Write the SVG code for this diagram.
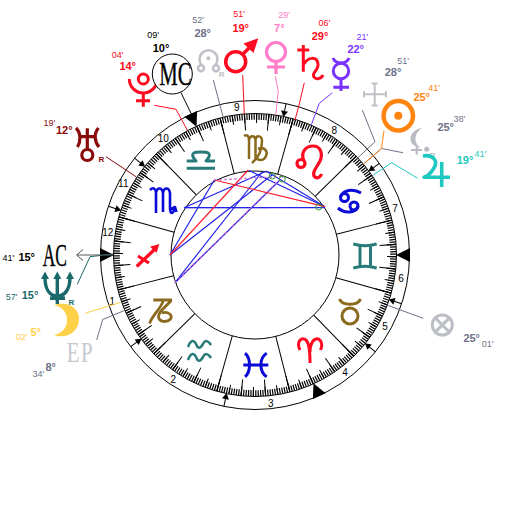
<svg xmlns="http://www.w3.org/2000/svg" xmlns:xlink="http://www.w3.org/1999/xlink" width="510" height="510" viewBox="0 0 510 510">
<style>
text{font-family:"Liberation Sans",Arial,sans-serif;text-anchor:middle}
.d{font-size:11px;font-weight:bold}
.m{font-size:9px}
.h{font-size:10px;fill:#000}
.r{font-size:8px;font-weight:bold}
.g{fill:none;stroke-linecap:butt;stroke-linejoin:round}
.ring{fill:none;stroke:#000;stroke-width:1}
.div{stroke:#000;stroke-width:1}
.con{fill:none;stroke-width:1}
.asp{stroke-width:1.2;stroke:#2222e8}
.sf{font-family:"Liberation Serif","Times New Roman",serif}
.red{stroke:#ff0a20}.redf{fill:#ff0a20}
.blue{stroke:#0a0ad8}.brown{stroke:#8a6a1c}.teal{stroke:#2a7a7a}
</style>
<defs>
<g id="cusp"><line x1="100.5" y1="255" x2="110" y2="255" stroke="#000"/><polygon points="114,255 108,251.5 108,258.5" fill="#000"/></g>
<polygon id="angle" points="100,248 100,262 114,255" fill="#000"/>
<line id="dv" class="div" x1="339" y1="255" x2="391" y2="255"/>
</defs>
<rect width="510" height="510" fill="#fff"/>
<g id="wheel">
<circle class="ring" cx="255" cy="255" r="154.5"/>
<circle class="ring" cx="255" cy="255" r="141.5"/>
<circle class="ring" cx="255" cy="255" r="84"/>
<g transform="rotate(75.68 255 255)" fill="none" stroke="#000">
<circle cx="255" cy="255" r="138.2" stroke-width="6" pathLength="360" stroke-dasharray="0.5 0.5" stroke-dashoffset="0.25"/>
<circle cx="255" cy="255" r="136.5" stroke-width="9" pathLength="72" stroke-dasharray="0.084 0.916" stroke-dashoffset="0.042"/>
<circle cx="255" cy="255" r="133" stroke-width="16" pathLength="36" stroke-dasharray="0.043 0.957" stroke-dashoffset="0.0215"/>
</g>
<use xlink:href="#dv" href="#dv" transform="rotate(75.68 255 255)"/>
<use xlink:href="#dv" href="#dv" transform="rotate(45.68 255 255)"/>
<use xlink:href="#dv" href="#dv" transform="rotate(15.68 255 255)"/>
<use xlink:href="#dv" href="#dv" transform="rotate(-14.32 255 255)"/>
<use xlink:href="#dv" href="#dv" transform="rotate(-44.32 255 255)"/>
<use xlink:href="#dv" href="#dv" transform="rotate(-74.32 255 255)"/>
<use xlink:href="#dv" href="#dv" transform="rotate(-104.32 255 255)"/>
<use xlink:href="#dv" href="#dv" transform="rotate(-134.32 255 255)"/>
<use xlink:href="#dv" href="#dv" transform="rotate(-164.32 255 255)"/>
<use xlink:href="#dv" href="#dv" transform="rotate(165.68 255 255)"/>
<use xlink:href="#dv" href="#dv" transform="rotate(135.68 255 255)"/>
<use xlink:href="#dv" href="#dv" transform="rotate(105.68 255 255)"/>
<use xlink:href="#angle" href="#angle"/>
<use xlink:href="#angle" href="#angle" transform="rotate(65.5 255 255)"/>
<use xlink:href="#angle" href="#angle" transform="rotate(180 255 255)"/>
<use xlink:href="#angle" href="#angle" transform="rotate(245.5 255 255)"/>
<use xlink:href="#cusp" href="#cusp" transform="rotate(18.4 255 255)"/>
<use xlink:href="#cusp" href="#cusp" transform="rotate(38.8 255 255)"/>
<use xlink:href="#cusp" href="#cusp" transform="rotate(101.6 255 255)"/>
<use xlink:href="#cusp" href="#cusp" transform="rotate(143.6 255 255)"/>
<use xlink:href="#cusp" href="#cusp" transform="rotate(198.4 255 255)"/>
<use xlink:href="#cusp" href="#cusp" transform="rotate(218.8 255 255)"/>
<use xlink:href="#cusp" href="#cusp" transform="rotate(281.6 255 255)"/>
<use xlink:href="#cusp" href="#cusp" transform="rotate(323.6 255 255)"/>
</g>
<g id="house-numbers">
<text class="h" x="112.3" y="304.5">1</text>
<text class="h" x="173.3" y="383">2</text>
<text class="h" x="270.7" y="406.5">3</text>
<text class="h" x="345" y="375.5">4</text>
<text class="h" x="385" y="329.5">5</text>
<text class="h" x="401" y="281.5">6</text>
<text class="h" x="395" y="212">7</text>
<text class="h" x="334.3" y="133.7">8</text>
<text class="h" x="236.7" y="110.5">9</text>
<text class="h" x="163.3" y="141.7">10</text>
<text class="h" x="123.3" y="186.7">11</text>
<text class="h" x="107.7" y="235.5">12</text>
</g>
<g id="connectors">
<polyline class="con" stroke="#ff0a20" points="154.3,105.3 176,109.3 187.3,130"/>
<polyline class="con" stroke="#000" points="181,92.7 192.7,116.7"/>
<polyline class="con" stroke="#6e7189" points="213.3,80 223,116.5"/>
<polyline class="con" stroke="#ff0a20" points="242.7,75 244.3,114"/>
<polyline class="con" stroke="#ff7cc8" points="275.3,76 278.3,91.7 275.7,115"/>
<polyline class="con" stroke="#ff0a20" points="304.3,82.7 299.3,104 295,120"/>
<polyline class="con" stroke="#7a33ff" points="332.3,92.7 319.3,103.3 311.3,125"/>
<polyline class="con" stroke="#6e7189" points="362.3,110 375,141.7 357.3,158.3"/>
<polyline class="con" stroke="#6e7189" points="403,152.7 381.5,148.5 364.3,163.3"/>
<polyline class="con" stroke="#ff8410" points="384,130.7 381.5,148.5 364.3,163.3"/>
<polyline class="con" stroke="#1fc8c0" points="417.7,178.3 391.7,162.7 373.3,175"/>
<polyline class="con" stroke="#6e7189" points="423.3,318.3 386.7,305"/>
<polyline class="con" stroke="#8b0a0a" points="106,156.7 136,176.7"/>
<polyline class="con" stroke="#19696a" points="77.3,284.3 90,256.7 113,254"/>
<polyline class="con" stroke="#555" stroke-width="1.5" points="83,249.5 76.5,255 83,260.5"/>
<line class="con" stroke="#555" stroke-width="1.5" x1="77" y1="255" x2="113" y2="255"/>
<polyline class="con" stroke="#ffd04a" points="85,313.3 120.7,302.3"/>
<polyline class="con" stroke="#6e7189" points="96.7,340 102.7,319.5 124.5,310.5"/>
</g>
<g id="aspects">
<line class="asp" x1="184" y1="207.7" x2="325" y2="207.7"/>
<line class="asp" stroke-opacity="0.5" stroke-width="2" x1="184" y1="207.7" x2="270" y2="207.7"/>
<line class="asp" x1="184" y1="207.7" x2="266.7" y2="171"/>
<line class="asp" x1="214.3" y1="180" x2="170" y2="255"/>
<line class="asp" x1="170" y1="255" x2="272" y2="175"/>
<line class="asp" x1="175" y1="282.7" x2="262" y2="172"/>
<line class="asp" x1="175" y1="282.7" x2="279" y2="181"/>
<line class="asp" x1="249" y1="170.5" x2="325" y2="206.7"/>
<line class="asp" x1="267" y1="171.5" x2="325" y2="206.7"/>
<line stroke="#ff2030" stroke-width="1.2" x1="170" y1="255" x2="248.3" y2="170"/>
<line stroke="#ff2030" stroke-width="1.2" x1="214.3" y1="180" x2="325" y2="206.7"/>
<line stroke="#c860d0" stroke-width="1.3" stroke-dasharray="2.5 2.5" x1="214.3" y1="180" x2="283" y2="176.5"/>
<line stroke="#c860d0" stroke-width="1.3" stroke-dasharray="2.5 2.5" x1="175" y1="282.7" x2="283" y2="176.5"/>
<g fill="none" stroke="#2a9a2a" stroke-width="1">
<circle cx="272.3" cy="176" r="3"/><circle cx="282.3" cy="179" r="3"/><circle cx="318.7" cy="207" r="3"/>
</g>
</g>
<g id="signs" fill="none">
<path id="libra" class="g teal" stroke-width="3" d="M186.7 161H196C188 152 196 152 201 152C206 152 214 152 206 161H215M186.7 168.3H215"/>
<path id="virgo" class="g brown" stroke-width="2.5" d="M244 136C247 134 249 136 249 140V159M249 140C250 135 255 135 255.5 140V159M255.5 140C256 135 262 135 262 141C262 150 258 158 252 163M258 149C265 146 268 152 266 156C264 161 259 161 256 158"/>
<g id="leo" class="g red" stroke-width="3.2"><circle cx="301" cy="163.5" r="4"/><path d="M304 161C300 152 306 146 313 146C321 146 323 154 320 161C317 167 312 172 314 176C316 179 320 178 321.6 174"/></g>
<g id="cancer" class="g blue" stroke-width="3"><circle cx="344.5" cy="197.5" r="4"/><circle cx="354" cy="206" r="4"/><path d="M340.5 197C343 190 353 188 361 193M358 206.5C355 213 345 214 338 208"/></g>
<path id="gemini" class="g teal" stroke-width="3" d="M353.3 244C360 246 370 246 376.7 244M353.3 268C360 266 370 266 376.7 268M360 246V266M370.5 246V266"/>
<g id="taurus" class="g brown" stroke-width="3"><circle cx="350" cy="316" r="8"/><path d="M339.5 299C342 306 358 306 360.5 299"/></g>
<path id="aries" class="g red" stroke-width="3" d="M300 350C296 342 301 338 304 339C308 340 310 346 310 363M320.5 350C324 342 319 338 316 339C312 340 310 346 310 352"/>
<path id="pisces" class="g blue" stroke-width="3" d="M245 353.3C251 358 251 372 245 376.7M266.7 353.3C259 358 259 372 266.7 376.7M243.3 365H268.3"/>
<path id="aquarius" class="g teal" stroke-width="2.5" d="M188 347C191 339 194 340 196 344C198 349 200 349 203 344C205 340 208 340 211 345M188 360C191 352 194 353 196 357C198 362 200 362 203 357C205 353 208 353 211 358"/>
<path id="capricorn" class="g brown" stroke-width="2.8" d="M153.3 300H172M163.5 300C161 309 153 314 149.5 323.5M171.5 300C165 308 158 312 158.5 317C159 322 167 323 170.5 319C173 315 168 311 162 313"/>
<g id="sagittarius"><path class="g red" stroke-width="3.2" d="M136.7 266.5L155 249M138 256L149 263"/><polygon class="redf" points="159.3,244 150,246.7 156.7,252.7"/></g>
<path id="scorpio" class="g blue" stroke-width="2.6" d="M150 190C153 187 155 188 156 192V213M156 193C157 187 162 187 163 193V212M163 193C164 187 169 187 170 193V208C170 215 173 214 175 208M170.5 209.5L175 207L176.5 212"/>
</g>
<g id="pluto"><g class="g red" stroke-width="3"><circle cx="143.3" cy="79" r="5"/><path d="M129.3 79A14 14 0 0 0 157.3 79M143.3 93V106.7M136 100.7H150"/></g>
<text class="d" fill="#ff0a20" x="127.7" y="70">14°</text><text class="m" fill="#ff0a20" x="117.5" y="58">04'</text></g>
<g id="mc"><circle cx="172.3" cy="74" r="20" fill="#fff" stroke="#000"/>
<text class="sf" font-size="33" transform="translate(175.5 85) scale(.63 1)" fill="#000" stroke="#000" stroke-width=".4">MC</text>
<text class="d" fill="#000" x="161" y="52">10°</text><text class="m" fill="#000" x="153" y="38">09'</text></g>
<g id="chiron"><g class="g" stroke="#bfc1c7" stroke-width="2.5"><path d="M201.5 65A9 9 0 1 1 215.5 65"/><circle cx="201" cy="68.3" r="3"/><circle cx="216" cy="68.3" r="3"/></g><circle cx="208.3" cy="58.3" r="2" fill="#bfc1c7"/>
<text class="r" fill="#bfc1c7" x="221.7" y="77">R</text>
<text class="d" fill="#6e7189" x="202.7" y="37">28°</text><text class="m" fill="#6e7189" x="198" y="23">52'</text></g>
<g id="mars"><circle class="g red" stroke-width="3.5" cx="235.7" cy="61.7" r="10"/><path class="g red" stroke-width="3.5" d="M243 54L254 43"/><polygon class="redf" points="258.3,38.3 243.5,43.5 253.5,53"/>
<text class="d" fill="#ff0a20" x="240.7" y="32">19°</text><text class="m" fill="#ff0a20" x="239" y="16.5">51'</text></g>
<g id="venus"><g class="g" stroke="#ff7cc8" stroke-width="3.2"><circle cx="276" cy="52" r="9.5"/><path d="M276 62V74M267 67H285"/></g>
<text class="d" fill="#ff7cc8" x="279.3" y="32">7°</text><text class="m" fill="#ff7cc8" x="284" y="18">29'</text></g>
<g id="saturn"><path class="g red" stroke-width="3" d="M303.3 45V71.7M297.3 50H309.3M304 64C308 57 317 56 318 64C319 70 311 73 314 77C316 80 321 79 323 75"/>
<text class="d" fill="#ff0a20" x="320" y="40">29°</text><text class="m" fill="#ff0a20" x="324.3" y="25.5">06'</text></g>
<g id="mercury"><g class="g" stroke="#7a33ff" stroke-width="3"><circle cx="341" cy="71" r="7.7"/><path d="M333 58Q335 63 341 63Q347 63 349 58M341 79V91M333.3 87.3H349"/></g>
<text class="d" fill="#7a33ff" x="355.7" y="53">22°</text><text class="m" fill="#7a33ff" x="362.3" y="39.5">21'</text></g>
<g id="cross"><path class="g" stroke="#c0c2c8" stroke-width="2" d="M374.7 84V105M364.5 94.3H385.5M371.7 83.5H377.7M371.7 105.5H377.7M364 91.3V97.3M386 91.3V97.3"/>
<text class="d" fill="#6e7189" x="393" y="75.5">28°</text><text class="m" fill="#6e7189" x="403" y="63.5">51'</text></g>
<g id="sun"><circle cx="398.3" cy="115.7" r="14.7" fill="none" stroke="#ff8410" stroke-width="4.5"/><circle cx="398.3" cy="115.7" r="4" fill="#ff8410"/>
<text class="d" fill="#ff8410" x="421.7" y="101">25°</text><text class="m" fill="#ff8410" x="434" y="90.5">41'</text></g>
<g id="lilith"><path fill="#b9bbc2" d="M422 128C408 130 406 146 421 148C414 144 413 134 422 128Z"/><path class="g" stroke="#b9bbc2" stroke-width="2.2" d="M416.7 147V154.5M411 150H422"/><circle cx="426.7" cy="149.3" r="2.5" fill="#b9bbc2"/>
<text class="r" fill="#b9bbc2" x="432.3" y="158">R</text>
<text class="d" fill="#6e7189" x="445.7" y="131">25°</text><text class="m" fill="#6e7189" x="459.3" y="122">38'</text></g>
<g id="jupiter"><path class="g" stroke="#1fc8c0" stroke-width="3.6" d="M423 156C434 154 438 162 434 168C431 173 428 176 424 177.3H450M441.7 162V187"/>
<text class="d" fill="#1fc8c0" x="465" y="164">19°</text><text class="m" fill="#1fc8c0" x="480.3" y="156.5">41'</text></g>
<g id="fortune"><g class="g" stroke="#bcbfc6" stroke-width="3"><circle cx="442.3" cy="325" r="10"/><path d="M435.2 317.9L449.4 332.1M449.4 317.9L435.2 332.1"/></g>
<text class="d" fill="#6e7189" x="471.7" y="342.3">25°</text><text class="m" fill="#6e7189" x="487.7" y="346.5">01'</text></g>
<g id="uranus"><g class="g" stroke="#8b0a0a" stroke-width="3.2"><path d="M76 128C81 133 81 141 77.5 147M98.5 128C94 133 94 141 99 147M80 136.7H95M87.3 128.3V149"/><circle cx="87.3" cy="155" r="5.5"/></g>
<text class="r" font-weight="normal" fill="#8b0a0a" x="101.3" y="162">R</text>
<text class="d" fill="#8b0a0a" x="64.3" y="134">12°</text><text class="m" fill="#8b0a0a" x="49.3" y="126">19'</text></g>
<g id="ac"><text class="sf" font-size="31" transform="translate(54.7 265.7) scale(.56 1)" fill="#000" stroke="#000" stroke-width=".4">AC</text>
<text class="d" fill="#000" x="26.7" y="261">15°</text><text class="m" fill="#000" x="8.3" y="260.5">41'</text></g>
<g id="neptune"><g class="g" stroke="#19696a" stroke-width="3.4"><path d="M45 277C45 290 50 296 57.3 296C64.5 296 70 290 70 277M57.3 276V304M50 298.3H65"/></g>
<polygon fill="#19696a" points="45,271.5 41,279 49,279"/><polygon fill="#19696a" points="57.3,271.5 53.3,279 61.3,279"/><polygon fill="#19696a" points="70,271.5 66,279 74,279"/>
<text class="r" fill="#19696a" x="71.3" y="305">R</text>
<text class="d" fill="#19696a" x="30" y="299">15°</text><text class="m" fill="#19696a" x="11.7" y="300">57'</text></g>
<g id="moon"><path fill="#ffd04a" d="M54 305C70 300 80 310 79 320C79 330 68 340 54 335C63 333 67 327 67 320C67 313 63 307 54 305Z"/>
<text class="d" fill="#ffd04a" x="35.7" y="336">5°</text><text class="m" fill="#ffd04a" x="21.7" y="339.5">02'</text></g>
<g id="ep"><text class="sf" font-size="30" transform="translate(80.5 361.7) scale(.7 1)" fill="#c6c8d0" letter-spacing="2">EP</text>
<text class="d" fill="#6e7189" x="50.7" y="371">8°</text><text class="m" fill="#6e7189" x="38.3" y="376.5">34'</text></g>
</svg>
